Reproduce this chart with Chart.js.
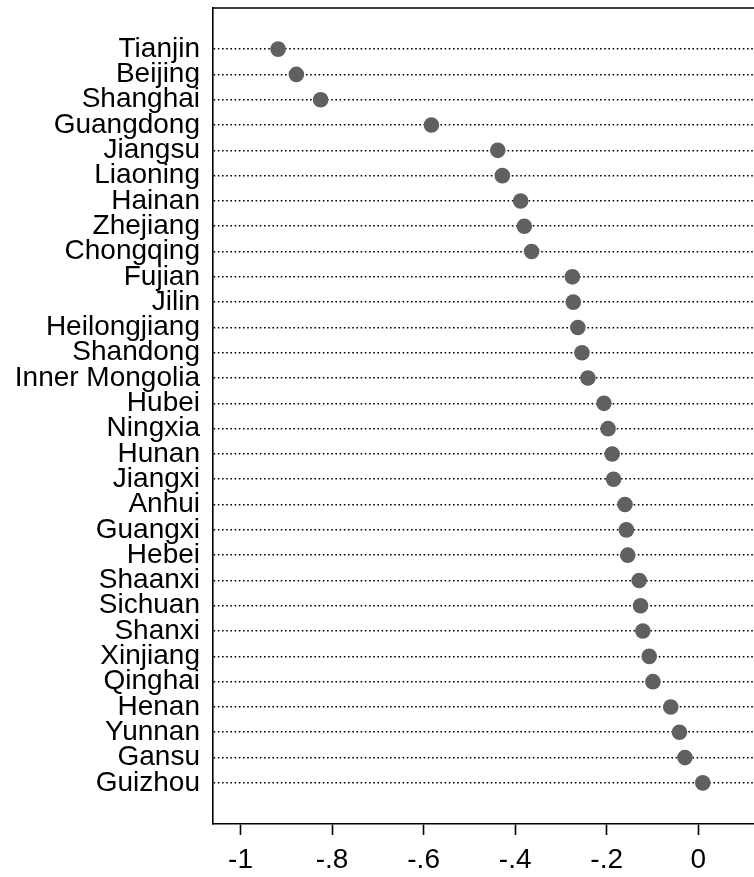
<!DOCTYPE html>
<html>
<head>
<meta charset="utf-8">
<script src="https://cdn.jsdelivr.net/npm/chart.js@4.4.0/dist/chart.umd.min.js"></script>
<style>
  html, body { margin: 0; padding: 0; background: #fff; overflow: hidden; }
  #wrap { width: 770px; height: 877px; }
</style>
</head>
<body>
<div id="wrap"><canvas id="c"></canvas></div>
<script>
const provinces = ['Tianjin','Beijing','Shanghai','Guangdong','Jiangsu','Liaoning','Hainan','Zhejiang','Chongqing','Fujian','Jilin','Heilongjiang','Shandong','Inner Mongolia','Hubei','Ningxia','Hunan','Jiangxi','Anhui','Guangxi','Hebei','Shaanxi','Sichuan','Shanxi','Xinjiang','Qinghai','Henan','Yunnan','Gansu','Guizhou'];
const values = [-0.918,-0.878,-0.825,-0.583,-0.438,-0.428,-0.388,-0.380,-0.364,-0.275,-0.273,-0.263,-0.254,-0.241,-0.206,-0.197,-0.188,-0.185,-0.160,-0.157,-0.154,-0.129,-0.126,-0.121,-0.107,-0.099,-0.060,-0.041,-0.029,0.010];
const xTickValues = [-1,-0.8,-0.6,-0.4,-0.2,0];
const xTickLabels = ['-1','-.8','-.6','-.4','-.2','0'];

const FONT = {family: '"Liberation Sans", Arial, sans-serif', size: 28};

const framePlugin = {
  id: 'frame',
  afterDraw(chart) {
    const {ctx, chartArea: a} = chart;
    ctx.save();
    ctx.strokeStyle = '#000';
    ctx.lineWidth = 1.6;
    ctx.beginPath();
    ctx.moveTo(a.left, a.top);
    ctx.lineTo(a.right + 10, a.top);
    ctx.stroke();
    ctx.restore();
  }
};

new Chart(document.getElementById('c'), {
  type: 'scatter',
  data: {
    datasets: [{
      data: provinces.map((p, i) => ({x: values[i], y: i})),
      backgroundColor: '#606060',
      borderWidth: 0,
      pointRadius: 7.8,
      pointHoverRadius: 7.8
    }]
  },
  options: {
    responsive: true,
    maintainAspectRatio: false,
    animation: false,
    events: [],
    layout: {padding: {top: 8, right: 5, left: 0, bottom: 0}},
    plugins: {legend: {display: false}, tooltip: {enabled: false}},
    scales: {
      x: {
        type: 'linear',
        min: -1.0602,
        max: 0.1398,
        afterBuildTicks: s => { s.ticks = xTickValues.map(v => ({value: v})); },
        afterFit: s => { s.height = 53; s.paddingLeft = 0; s.paddingRight = 0; },
        ticks: {
          color: '#000',
          font: FONT,
          padding: 8,
          autoSkip: false,
          maxRotation: 0,
          callback: (v, i) => xTickLabels[i]
        },
        grid: {drawOnChartArea: false, drawTicks: true, tickLength: 11, tickColor: '#000', tickWidth: 1.6},
        border: {display: true, color: '#000', width: 1.6}
      },
      y: {
        type: 'linear',
        reverse: true,
        min: -1.625,
        max: 30.625,
        afterBuildTicks: s => { s.ticks = provinces.map((p, i) => ({value: i})); },
        afterFit: s => { s.width = 213; s.paddingTop = 0; s.paddingBottom = 0; },
        ticks: {
          color: '#000',
          font: FONT,
          padding: 13,
          autoSkip: false,
          callback: v => provinces[v]
        },
        grid: {color: '#000', lineWidth: 1.6, drawTicks: false, tickLength: 0},
        border: {display: true, color: '#000', width: 1.6, dash: [1.6, 2.6]}
      }
    }
  },
  plugins: [framePlugin]
});
</script>
</body>
</html>
